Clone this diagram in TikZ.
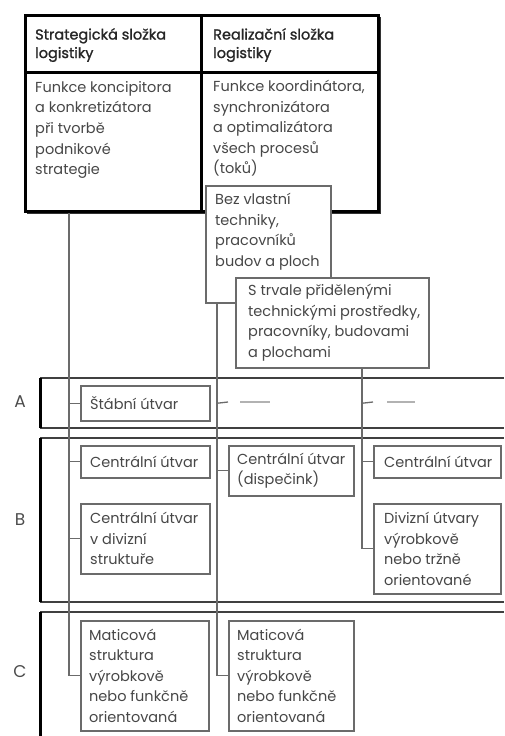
\documentclass[tikz,border=0pt]{standalone}
\usepackage{fontspec}
\setmainfont{Poppins}
\newfontfamily\hdrfont{Poppins}[FakeBold=1.2]
\usetikzlibrary{calc}
\definecolor{boxgray}{gray}{0.42}
\definecolor{txtgray}{gray}{0.28}
\definecolor{linegray}{gray}{0.42}
\definecolor{bandgray}{gray}{0.25}
\begin{document}
\begin{tikzpicture}[x=1pt,y=-1pt,
  bodyfont/.style={font=\fontsize{14.5}{20.6}\selectfont},
  bx/.style={draw=boxgray,line width=1.5pt,fill=white,inner sep=0pt,anchor=north west},
  frame/.style={draw=black,line width=3pt,inner sep=0pt,anchor=north west,fill=white},
  hdr/.style={font=\fontsize{14.5}{18.5}\hdrfont,text=black!85,align=left,
    inner sep=0pt,anchor=north west},
  txt/.style={bodyfont,text=txtgray,align=left,inner sep=0pt,anchor=north west},
  intxt/.style={bodyfont,text=txtgray,align=left,inner sep=0pt,anchor=west},
  conn/.style={draw=linegray,line width=1.3pt},
  ph/.style={draw=gray!60,line width=1.2pt},
  band/.style={draw=bandgray,line width=2.5pt},
  bandedge/.style={draw=black,line width=3pt},
  lbl/.style={font=\fontsize{17}{20}\selectfont,text=black!70}]
\useasboundingbox (0,0) rectangle (504,736);

% ---- bands ----
\draw[band] (40,378) -- (504,378);
\draw[band] (40,428) -- (504,428);
\draw[bandedge] (40,378) -- (40,428);
\draw[band] (40,438) -- (504,438);
\draw[band] (40,602) -- (504,602);
\draw[bandedge] (40,438) -- (40,602);
\draw[band] (40,612) -- (504,612);
\draw[bandedge] (40,612) -- (40,736);
\node[lbl] (la) at (20,402) {A};
\node[lbl] (lb) at (20,520) {B};
\node[lbl] (lc) at (20,672) {C};

% ---- top table ----
\draw[black!80,line width=2pt] (27,213) -- (380,213) -- (380,17);
\node[frame,minimum width=176,minimum height=57] (hL) at (24,14) {};
\node[frame,minimum width=177,minimum height=57] (hR) at (200,14) {};
\node[frame,minimum width=176,minimum height=139] (fL) at (24,71) {};
\node[frame,minimum width=177,minimum height=139] (fR) at (200,71) {};
\node[hdr] (hLt) at (35,28) {Strategická složka\\logistiky};
\node[hdr] (hRt) at (213,28) {Realizační složka\\logistiky};
\node[txt] (fLt) at (35,81) {Funkce koncipitora\\a konkretizátora\\při tvorbě\\podnikové\\strategie};
\node[txt] (fRt) at (213,80) {Funkce koordinátora,\\synchronizátora\\a optimalizátora\\všech procesů\\(toků)};

% ---- middle boxes ----
\node[bx,minimum width=125,minimum height=117] (bez) at (205,185) {};
\node[txt] (bezt) at (215,193) {Bez vlastní\\techniky,\\pracovníků\\budov a ploch};
\node[bx,minimum width=193,minimum height=90] (strv) at (235,277) {};
\node[intxt] (strvt) at ($(strv.west)+(13,0)$) {S trvale přidělenými\\technickými prostředky,\\pracovníky, budovami\\a plochami};

% ---- band boxes ----
\node[bx,minimum width=129,minimum height=35] (stab) at (80,385) {};
\node[intxt] (stabt) at ($(stab.west)+(10,0)$) {Štábní útvar};
\node[bx,minimum width=129,minimum height=32] (cen1) at (80,445) {};
\node[intxt] (cen1t) at ($(cen1.west)+(10,0)$) {Centrální útvar};
\node[bx,minimum width=129,minimum height=70] (cdiv) at (80,503) {};
\node[intxt] (cdivt) at ($(cdiv.west)+(10,0)$) {Centrální útvar\\v divizní\\struktuře};
\node[bx,minimum width=125,minimum height=50] (disp) at (228,445) {};
\node[intxt] (dispt) at ($(disp.west)+(9,0)$) {Centrální útvar\\(dispečink)};
\node[bx,minimum width=127,minimum height=32] (cen3) at (373,445) {};
\node[intxt] (cen3t) at ($(cen3.west)+(11,0)$) {Centrální útvar};
\node[bx,minimum width=127,minimum height=90] (divz) at (373,503) {};
\node[intxt] (divzt) at ($(divz.west)+(11,0)$) {Divizní útvary\\výrobkově\\nebo tržně\\orientované};
\node[bx,minimum width=128,minimum height=110] (mat1) at (80,620) {};
\node[intxt] (mat1t) at ($(mat1.west)+(9,0)$) {Maticová\\struktura\\výrobkově\\nebo funkčně\\orientovaná};
\node[bx,minimum width=125,minimum height=110] (mat2) at (228,620) {};
\node[intxt] (mat2t) at ($(mat2.west)+(9,0)$) {Maticová\\struktura\\výrobkově\\nebo funkčně\\orientovaná};

% ---- connectors ----
\draw[conn] (fL.south -| 69,0) -- (mat1.west -| 69,0) -- (mat1.west);
\draw[conn] (stab.west -| 69,0) -- (stab.west);
\draw[conn] (cen1.west -| 69,0) -- (cen1.west);
\draw[conn] (cdiv.west -| 69,0) -- (cdiv.west);

\draw[conn] (bez.south -| 217,0) -- (mat2.west -| 217,0) -- (mat2.west);
\draw[conn] (disp.west -| 217,0) -- (disp.west);
\coordinate (a2) at (228,402);
\draw[conn] (stab.west -| 217,0) -- (a2);
\coordinate (d2a) at (240,402);
\coordinate (d2b) at (270,402);
\draw[ph] (d2a) -- (d2b);

\draw[conn] (strv.south -| 362,0) -- (divz.west -| 362,0) -- (divz.west);
\draw[conn] (cen3.west -| 362,0) -- (cen3.west);
\coordinate (a3) at (373,402);
\draw[conn] (stab.west -| 362,0) -- (a3);
\coordinate (d3a) at (387,402);
\coordinate (d3b) at (415,402);
\draw[ph] (d3a) -- (d3b);
\end{tikzpicture}
\end{document}
